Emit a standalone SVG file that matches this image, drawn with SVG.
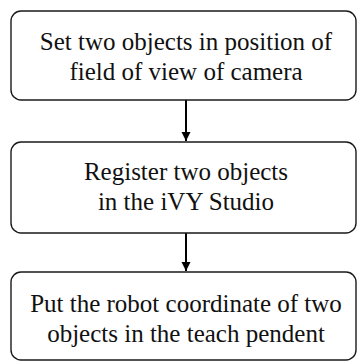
<svg xmlns="http://www.w3.org/2000/svg" width="358" height="363" viewBox="0 0 358 363">
<style>
.box{fill:#fff;stroke:#1a1a1a;stroke-width:1.4}
.t{font-family:'Liberation Serif','DejaVu Serif',serif;font-size:25px;fill:#111;text-anchor:middle}
.c{stroke:#000;stroke-width:2;fill:none}
</style>
<defs>
<marker id="ah" markerUnits="userSpaceOnUse" markerWidth="10" markerHeight="10" refX="9" refY="5" orient="auto" viewBox="0 0 10 10">
<path d="M0,0.5 L9,5 L0,9.5 Z" fill="#000"/>
</marker>
</defs>
<rect width="358" height="363" fill="#fff"/>
<g id="connectors">
<line class="c" x1="186" y1="100" x2="186" y2="141" marker-end="url(#ah)"/>
<line class="c" x1="186" y1="233" x2="186" y2="271" marker-end="url(#ah)"/>
</g>
<g id="n1">
<rect class="box" x="11" y="11" width="345" height="89" rx="10"/>
<text class="t" font-family="Liberation Serif" x="186" y="50">Set two objects in position of</text>
<text class="t" font-family="Liberation Serif" x="186" y="80">field of view of camera</text>
</g>
<g id="n2">
<rect class="box" x="11" y="142" width="345" height="91" rx="10"/>
<text class="t" font-family="Liberation Serif" x="186" y="180">Register two objects</text>
<text class="t" font-family="Liberation Serif" x="186" y="210">in the iVY Studio</text>
</g>
<g id="n3">
<rect class="box" x="11" y="272" width="345" height="88" rx="10"/>
<text class="t" font-family="Liberation Serif" x="186" y="312">Put the robot coordinate of two</text>
<text class="t" font-family="Liberation Serif" x="186" y="342">objects in the teach pendent</text>
</g>
</svg>
